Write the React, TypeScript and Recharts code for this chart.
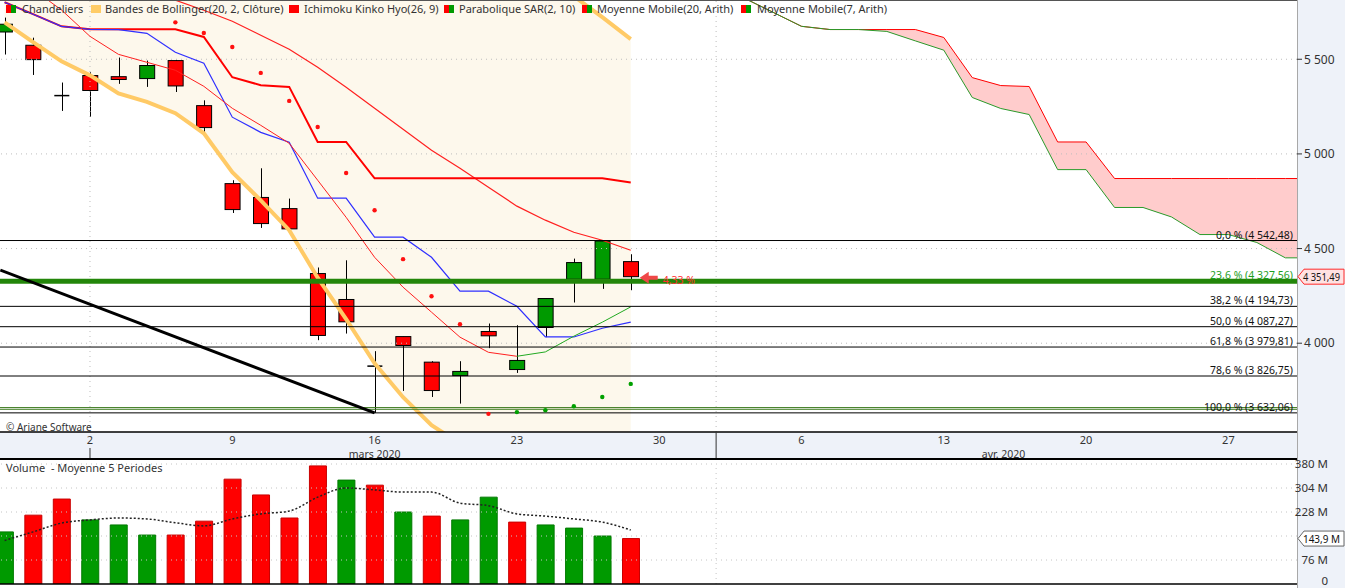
import React from 'react';
import { ComposedChart, Bar, Line, Area, XAxis, YAxis, ReferenceLine, ReferenceDot, Cell } from 'recharts';

const W = 1345;
const H = 588;
const PLOT_W = 1297;
const FONT = '"Noto Sans", "DejaVu Sans", sans-serif';
const AXIS_BG = '#eef2f9';
const RED = '#ff0000';
const GREEN = '#009a00';

// x = trading-day index, 0 = 26 Feb 2020
const X_DOMAIN: [number, number] = [-0.162, 45.41];
const dayTicks = [3, 8, 13, 18, 23, 28, 33, 38, 43];
const dayLabels = ['2', '9', '16', '23', '30', '6', '13', '20', '27'];
const monthStarts = [3, 25];
const monthNames = [
  { at: 13, text: 'mars 2020' },
  { at: 35.1, text: 'avr. 2020' },
];

// candles
const opens = [5644, 5574, 5308, 5414, 5408, 5398, 5493, 5255, 4843, 4770, 4711, 4368, 4231, 3879, 4035, 3900, 3829, 4062, 3861, 4083, 4338, 4338, 4431];
const highs = [5720, 5614, 5377, 5431, 5509, 5493, 5497, 5283, 4861, 4924, 4764, 4400, 4438, 3958, 4035, 3905, 3905, 4104, 4095, 4236, 4447, 4542.48, 4470];
const lows = [5525, 5417, 5227, 5195, 5370, 5354, 5327, 5116, 4688, 4609, 4597, 4016, 4051, 3632.06, 3748, 3716, 3681, 3974, 3843, 4032, 4215, 4287, 4280];
const closes = [5685, 5498, 5308, 5335, 5393, 5467, 5359, 5139, 4706, 4632, 4604, 4041, 4113, 3879, 3988, 3750, 3851, 4039, 3909, 4236, 4426, 4540, 4351.49];

// indicators
const bbUpper = [6410, 6430, 6450, 6445, 6460, 6425, 6409, 6409, 6499, 6499, 6509, 6570, 6577, 6588, 6545, 6480, 6380, 6230, 6070, 5950, 5833, 5722, 5606];
const bbLower = [5695, 5590, 5489, 5415, 5320, 5275, 5215, 5109, 4903, 4755, 4597, 4346, 4127, 3894, 3715, 3567, 3470, 3420, 3380, 3350, 3340, 3365, 3376];
const ma20 = [6050, 6010, 5970, 5930, 5890, 5850, 5812, 5759, 5701, 5627, 5553, 5458, 5352, 5241, 5130, 5019, 4924, 4824, 4724, 4650, 4586, 4544, 4491];
const ma7 = [5950, 5870, 5760, 5621, 5526, 5484, 5442, 5357, 5241, 5151, 5056, 4861, 4665, 4454, 4296, 4164, 4032, 3952, 3931, 3954, 4037, 4111, 4192];
const ma7RiseFrom = 18;
const tenkan = [5801, 5738, 5674, 5658, 5657, 5637, 5537, 5479, 5194, 5114, 5062, 4766, 4766, 4560, 4560, 4454, 4275, 4275, 4195, 4033, 4033, 4079, 4111];
const kijun = [5801, 5738, 5674, 5658, 5658, 5658, 5658, 5618, 5405, 5363, 5354, 5063, 5063, 4871, 4871, 4871, 4871, 4871, 4871, 4871, 4871, 4871, 4849];
const sar = [null, null, null, null, null, null, 5695, 5639, 5565, 5428, 5280, 5142, 4899, 4702, 4444, 4248, 4100, 3627, 3636, 3646, 3667, 3716, 3785];
const sarSide = 'dddddddddddddddddduuuuuu';

// Ichimoku cloud, projected from index 26
const cloudFrom = 26;
const senkouA = [5822, 5748, 5674, 5657, 5657, 5647, 5597, 5548, 5298, 5240, 5208, 4917, 4917, 4717, 4717, 4667, 4574, 4574, 4532, 4451, 4451, 4451, 4440];
const senkouB = [5822, 5748, 5674, 5657, 5657, 5657, 5657, 5615, 5403, 5361, 5356, 5063, 5063, 4870, 4870, 4870, 4870, 4870, 4870, 4870, 4870, 4870, 4850];

// Fibonacci retracements
const fibLevels = [
  { text: '0,0 % (4 542,48)', value: 4542.48 },
  { text: '23,6 % (4 327,56)', value: 4327.56 },
  { text: '38,2 % (4 194,73)', value: 4194.73 },
  { text: '50,0 % (4 087,27)', value: 4087.27 },
  { text: '61,8 % (3 979,81)', value: 3979.81 },
  { text: '78,6 % (3 826,75)', value: 3826.75 },
  { text: '100,0 % (3 632,06)', value: 3632.06 },
];
const supportLines = [3660, 3651];
const trendFrom = { x: -0.15, y: 4386 };
const trendTo = { x: 13, y: 3632.06 };
const priceTicks = [4000, 4500, 5000, 5500];
const lastPriceText = '4 351,49';
const changeText = '4,33 %';

// volume (millions)
const volumes = [165, 218, 269, 203, 187, 155, 155, 199, 332, 282, 209, 374, 329, 313, 228, 215, 203, 275, 196, 187, 177, 152, 143.9];
const volUp = [1, 0, 0, 1, 1, 1, 0, 0, 0, 0, 0, 0, 1, 0, 1, 0, 1, 1, 0, 1, 1, 1, 0];
const volMa5 = [138, 165, 193, 203, 209, 206, 194, 184, 206, 222, 231, 275, 304, 298, 291, 291, 256, 248, 222, 215, 206, 196, 171];
const volTicks = [0, 76, 228, 304, 380];
const volGrid = [76, 152, 228, 304, 380];
const lastVolText = '143,9 M';

const at = (arr: (number | null)[], i: number) => (i >= 0 && i < arr.length ? arr[i] : null);

const priceRows = Array.from({ length: cloudFrom + senkouA.length }, (_, i) => ({
  i,
  o: at(opens, i),
  h: at(highs, i),
  l: at(lows, i),
  c: at(closes, i),
  bbU: at(bbUpper, i),
  bbL: at(bbLower, i),
  ma20: at(ma20, i),
  ma7Down: i <= ma7RiseFrom ? at(ma7, i) : null,
  ma7Up: i >= ma7RiseFrom ? at(ma7, i) : null,
  tenkan: at(tenkan, i),
  kijun: at(kijun, i),
  sarDown: sarSide[i] === 'd' ? at(sar, i) : null,
  sarUp: sarSide[i] === 'u' ? at(sar, i) : null,
  spanA: at(senkouA, i - cloudFrom),
  spanB: at(senkouB, i - cloudFrom),
}));

const volRows = volumes.map((v, i) => ({ i, vol: v, up: volUp[i], ma5: volMa5[i] }));

const fmtThousands = (v: number) => String(v).replace(/\B(?=(\d{3})+(?!\d))/g, ' ');

function Candle(props: any) {
  const { x, y, width, height, payload } = props;
  if (!payload || payload.o == null) return <g />;
  const { o, h, l, c } = payload;
  const top = Math.min(y, y + height);
  const span = Math.abs(height);
  const k = span / (h - l);
  const py = (v: number) => top + (h - v) * k;
  const cx = Math.round(x + width / 2) + 0.5;
  const bTop = py(Math.max(o, c));
  const bBot = py(Math.min(o, c));
  const wick = <line x1={cx} x2={cx} y1={top} y2={top + span} stroke="#000" strokeWidth={1} />;
  if (o === c) {
    return (
      <g>
        {wick}
        <line x1={x} x2={x + width} y1={bTop} y2={bTop} stroke="#000" strokeWidth={1.5} />
      </g>
    );
  }
  return (
    <g>
      {wick}
      <rect x={x} y={bTop} width={width} height={Math.max(1, bBot - bTop)} fill={c > o ? GREEN : RED} stroke="#000" strokeWidth={1} />
    </g>
  );
}

const sarDot = (color: string) => (p: any) =>
  p.value == null || p.cy == null ? (
    <g key={`s${p.index}`} />
  ) : (
    <circle key={`s${p.index}`} cx={p.cx} cy={p.cy} r={2.2} fill={color} stroke="none" />
  );

function FibLabel({ viewBox, text, color }: any) {
  if (!viewBox) return null;
  return (
    <text x={viewBox.x + viewBox.width - 4} y={viewBox.y - 2} textAnchor="end" fontSize={10.5} fill={color} fontFamily={FONT}>
      {text}
    </text>
  );
}

function ValueTag({ viewBox, text, fill, stroke }: any) {
  if (!viewBox) return null;
  const x0 = PLOT_W;
  const y = viewBox.y;
  const hh = 7.5;
  const pts = `${x0 + 1},${y} ${x0 + 7},${y - hh} ${W - 1},${y - hh} ${W - 1},${y + hh} ${x0 + 7},${y + hh}`;
  return (
    <g>
      <polygon points={pts} fill={fill} stroke={stroke} strokeWidth={1} />
      <text x={x0 + 6} y={y + 4} fontSize={10.5} fill="#111" fontFamily={FONT} textLength={W - x0 - 11} lengthAdjust="spacingAndGlyphs">
        {text}
      </text>
    </g>
  );
}

function ChangeMark({ cx, cy }: any) {
  if (cx == null) return <g />;
  const pts = `${cx + 9},${cy + 1} ${cx + 18},${cy - 5} ${cx + 18},${cy - 1} ${cx + 27},${cy - 1} ${cx + 27},${cy + 3} ${cx + 18},${cy + 3} ${cx + 18},${cy + 7}`;
  return (
    <g>
      <polygon points={pts} fill="#f04848" />
      <text x={cx + 32} y={cy + 7} fontSize={10.5} fill="#ff3030" fontFamily={FONT}>
        {changeText}
      </text>
    </g>
  );
}

function MonthTick(p: any) {
  const v = p.payload.value;
  const name = monthNames.find((m) => m.at === v);
  if (name) {
    return (
      <text x={p.x} y={p.y + 12} textAnchor="middle" fontSize={10.5} fill="#333" fontFamily={FONT}>
        {name.text}
      </text>
    );
  }
  const full = v === monthStarts[1];
  return <line x1={p.x} x2={p.x} y1={full ? p.y - 14 : p.y + 2} y2={p.y + 14} stroke="#333" strokeWidth={1} />;
}

function VolTick(p: any) {
  const v = p.payload.value;
  const dy = v === 0 ? 1 : 4;
  return (
    <text x={PLOT_W + 31} y={p.y + dy} textAnchor="end" fontSize={11.5} fill="#333" fontFamily={FONT}>
      {v === 0 ? '0' : `${v} M`}
    </text>
  );
}

const legendItems = [
  { x: 6, colors: [RED, GREEN], text: 'Chandeliers', tx: 22 },
  { x: 91, colors: ['#ffcc66'], text: 'Bandes de Bollinger(20, 2, Clôture)', tx: 105 },
  { x: 289, colors: [RED], text: 'Ichimoku Kinko Hyo(26, 9)', tx: 304 },
  { x: 444, colors: [RED, GREEN], text: 'Parabolique SAR(2, 10)', tx: 459 },
  { x: 582, colors: [RED, GREEN], text: 'Moyenne Mobile(20, Arith)', tx: 597 },
  { x: 741, colors: [RED, GREEN], text: 'Moyenne Mobile(7, Arith)', tx: 757 },
];

export default function App() {
  const lastVol = volumes[volumes.length - 1];
  const lastClose = closes[closes.length - 1];
  return (
    <div style={{ position: 'absolute', left: 0, top: 0, width: W, height: H, background: '#fff', overflow: 'hidden', fontFamily: FONT }}>
      <div style={{ position: 'absolute', left: PLOT_W, top: 0, width: W - PLOT_W, height: H, background: AXIS_BG }} />
      <div style={{ position: 'absolute', left: 0, top: 432, width: PLOT_W, height: 28, background: AXIS_BG }} />
      <div style={{ position: 'absolute', left: PLOT_W, top: 0, width: 1, height: H, background: '#a8a8a8' }} />

      <div style={{ position: 'absolute', left: 0, top: 0 }}>
        <ComposedChart width={W} height={460} data={priceRows} margin={{ top: 0, right: 0, bottom: 0, left: 0 }} style={{ overflow: 'visible' }}>
          <XAxis
            type="number"
            dataKey="i"
            domain={X_DOMAIN}
            allowDataOverflow
            ticks={dayTicks}
            interval={0}
            tickFormatter={(v: number) => dayLabels[dayTicks.indexOf(v)] ?? ''}
            tick={{ fontSize: 11, fill: '#333', fontFamily: FONT }}
            tickLine={false}
            tickSize={0}
            tickMargin={4}
            axisLine={{ stroke: '#000', strokeWidth: 1.5 }}
            height={14}
          />
          <XAxis
            xAxisId="m"
            type="number"
            dataKey="i"
            domain={X_DOMAIN}
            allowDataOverflow
            ticks={[monthStarts[0], monthNames[0].at, monthStarts[1], monthNames[1].at]}
            interval={0}
            tick={<MonthTick />}
            tickLine={false}
            tickSize={0}
            tickMargin={0}
            axisLine={false}
            height={14}
          />
          <YAxis
            orientation="right"
            width={W - PLOT_W}
            domain={[3531, 5813]}
            allowDataOverflow
            ticks={priceTicks}
            tickFormatter={fmtThousands}
            tick={{ fontSize: 12, fill: '#333', fontFamily: FONT }}
            tickSize={5}
            tickMargin={2}
            tickLine={{ stroke: '#333' }}
            axisLine={false}
          />
          {priceTicks.map((t) => (
            <ReferenceLine key={`g${t}`} y={t} stroke="#bdbdbd" strokeDasharray="1 4" />
          ))}
          {monthStarts.map((m) => (
            <ReferenceLine key={`v${m}`} x={m} stroke="#bdbdbd" strokeDasharray="1 4" />
          ))}

          <Area dataKey={(d: any) => (d.bbL == null ? null : [d.bbL, d.bbU])} fill="#fdf8ec" fillOpacity={1} stroke="none" isAnimationActive={false} />
          <Area dataKey={(d: any) => (d.spanA == null ? null : [d.spanA, d.spanB])} fill="#ffcccc" fillOpacity={1} stroke="none" isAnimationActive={false} />

          <Line dataKey="bbU" stroke="#ffca66" strokeWidth={4} dot={false} isAnimationActive={false} />
          <Line dataKey="bbL" stroke="#ffca66" strokeWidth={4} dot={false} isAnimationActive={false} />
          <Line dataKey="spanB" stroke="#ff0000" strokeWidth={1} dot={false} isAnimationActive={false} />
          <Line dataKey="spanA" stroke="#2a9a2a" strokeWidth={1} dot={false} isAnimationActive={false} />
          <Line dataKey="ma20" stroke="#ff2020" strokeWidth={1.2} dot={false} isAnimationActive={false} />
          <Line dataKey="kijun" stroke="#ff0000" strokeWidth={2} dot={false} isAnimationActive={false} />
          <Line dataKey="tenkan" stroke="#2f2fff" strokeWidth={1.2} dot={false} isAnimationActive={false} />
          <Line dataKey="ma7Down" stroke="#ff2020" strokeWidth={1} dot={false} isAnimationActive={false} />
          <Line dataKey="ma7Up" stroke="#22aa22" strokeWidth={1} dot={false} isAnimationActive={false} />
          <Line dataKey="sarDown" stroke="none" dot={sarDot('#ff1010')} activeDot={false} isAnimationActive={false} />
          <Line dataKey="sarUp" stroke="none" dot={sarDot('#00a000')} activeDot={false} isAnimationActive={false} />

          <Bar dataKey={(d: any) => (d.o == null ? null : [d.l, d.h])} barSize={15} shape={(p: any) => <Candle {...p} />} isAnimationActive={false} />

          <ReferenceDot x={closes.length - 1} y={lastClose} shape={(p: any) => <ChangeMark {...p} />} />

          {supportLines.map((s) => (
            <ReferenceLine key={`s${s}`} y={s} stroke="#3d7a1f" strokeWidth={1} />
          ))}
          {fibLevels.map((f, k) =>
            k === 1 ? (
              <ReferenceLine key={f.text} y={f.value} stroke="#23860a" strokeWidth={5} label={<FibLabel text={f.text} color="#1ea01e" />} />
            ) : (
              <ReferenceLine key={f.text} y={f.value} stroke="#000" strokeWidth={1} label={<FibLabel text={f.text} color="#111" />} />
            ),
          )}
          <ReferenceLine segment={[trendFrom, trendTo]} stroke="#000" strokeWidth={3} />
          <ReferenceLine y={lastClose} stroke="none" label={<ValueTag text={lastPriceText} fill="#ffe2e2" stroke="#ff2a2a" />} />
        </ComposedChart>
      </div>

      <div style={{ position: 'absolute', left: 0, top: 0, width: PLOT_W, height: 1, background: '#555' }} />
      <div style={{ position: 'absolute', left: 0, top: 458, width: PLOT_W, height: 2, background: '#000' }} />

      <div style={{ position: 'absolute', left: 0, top: 452 }}>
        <ComposedChart width={W} height={136} data={volRows} margin={{ top: 12, right: 0, bottom: 4, left: 0 }} style={{ overflow: 'visible' }}>
          <XAxis type="number" dataKey="i" domain={X_DOMAIN} allowDataOverflow hide />
          <YAxis
            orientation="right"
            width={W - PLOT_W}
            domain={[0, 380]}
            allowDataOverflow
            ticks={volTicks}
            interval={0}
            tick={<VolTick />}
            tickLine={false}
            axisLine={false}
          />
          {volGrid.map((v) => (
            <ReferenceLine key={`vg${v}`} y={v} stroke="#c4c4c4" strokeDasharray="1 4" />
          ))}
          <ReferenceLine x={monthStarts[1]} stroke="#c4c4c4" strokeDasharray="1 4" />
          <Bar dataKey="vol" barSize={17} isAnimationActive={false}>
            {volRows.map((r) => (
              <Cell key={r.i} fill={r.up ? GREEN : RED} stroke={r.up ? '#007a00' : '#c80000'} />
            ))}
          </Bar>
          <Line dataKey="ma5" type="monotone" stroke="#222" strokeWidth={1.5} strokeDasharray="2 2" dot={false} isAnimationActive={false} />
          <ReferenceLine y={0} stroke="#000" strokeWidth={1.5} />
          <ReferenceLine y={lastVol} stroke="none" label={<ValueTag text={lastVolText} fill="#fff" stroke="#666" />} />
        </ComposedChart>
      </div>

      {legendItems.map((it) => (
        <React.Fragment key={it.text}>
          <div style={{ position: 'absolute', left: it.x, top: 5, height: 8, display: 'flex' }}>
            {it.colors.map((c, k) => (
              <span key={k} style={{ display: 'block', width: it.colors.length === 1 ? 10 : 5, height: 8, background: c }} />
            ))}
          </div>
          <div style={{ position: 'absolute', left: it.tx, top: 1, fontSize: 11, lineHeight: '15px', color: '#333', whiteSpace: 'nowrap' }}>{it.text}</div>
        </React.Fragment>
      ))}
      <div style={{ position: 'absolute', left: 6, top: 420, fontSize: 10, lineHeight: '14px', color: '#333', whiteSpace: 'nowrap' }}>© Ariane Software</div>
      <div style={{ position: 'absolute', left: 6, top: 460, fontSize: 11, lineHeight: '15px', color: '#333', whiteSpace: 'pre' }}>Volume  - Moyenne 5 Periodes</div>
    </div>
  );
}
